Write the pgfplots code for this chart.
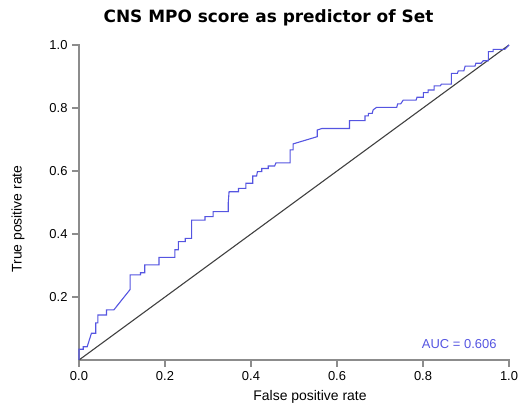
\documentclass[border=0pt]{standalone}
\usepackage{fontspec}
\setmainfont{Liberation Sans}
\newfontfamily\titlefont{DejaVu Sans}
\usepackage{pgfplots}
\pgfplotsset{compat=1.18}
\definecolor{rocblue}{RGB}{85,85,225}
\definecolor{axgray}{RGB}{140,140,140}

\begin{document}
\begin{tikzpicture}
\begin{axis}[
  at={(0,0)}, anchor=south west,
  scale only axis, width=430bp, height=315bp,
  xmin=0, xmax=1, ymin=0, ymax=1,
  axis lines*=left,
  axis line style={draw=none},
  major tick length=7bp,
  tick align=outside,
  xtick={0,0.2,0.4,0.6,0.8,1}, ytick={0.2,0.4,0.6,0.8,1},
  xticklabel style={font=\fontsize{13}{15}\selectfont, yshift=-1bp},
  yticklabel style={font=\fontsize{13}{15}\selectfont, xshift=-1bp},
  /pgf/number format/fixed,
  /pgf/number format/fixed zerofill,
  /pgf/number format/precision=1,
  /pgf/number format/assume math mode=true,
  clip=false,
]
% frame and ticks drawn in axis units
\draw[axgray, line width=2.2bp, line cap=rect] (axis cs:0,1) -- (axis cs:0,0) -- (axis cs:1,0);
\pgfplotsinvokeforeach{0,0.2,0.4,0.6,0.8,1}{
  \draw[axgray, line width=2.2bp] (axis cs:#1,0) -- ++(0,-7bp);
}
\pgfplotsinvokeforeach{0.2,0.4,0.6,0.8,1}{
  \draw[axgray, line width=2.2bp] (axis cs:0,#1) -- ++(-7bp,0);
}
\addplot[black!75, line width=1.1bp] coordinates {(0,0) (1,1)};
\addplot[rocblue, line width=1.1bp] coordinates {
(0,0) (0,0.034) (0.010,0.034) (0.010,0.042) (0.019,0.042) (0.029,0.085)
(0.039,0.085) (0.039,0.118) (0.044,0.118) (0.044,0.143) (0.064,0.143)
(0.064,0.159) (0.081,0.159) (0.119,0.224) (0.119,0.270) (0.143,0.270)
(0.143,0.277) (0.153,0.277) (0.153,0.302) (0.186,0.302) (0.186,0.326)
(0.223,0.326) (0.223,0.350) (0.231,0.350) (0.231,0.376) (0.247,0.376)
(0.247,0.386) (0.262,0.386) (0.262,0.444) (0.293,0.444) (0.293,0.455)
(0.312,0.455) (0.312,0.471) (0.347,0.471) (0.347,0.497) (0.349,0.534)
(0.371,0.534) (0.371,0.545) (0.388,0.545) (0.388,0.561) (0.404,0.561)
(0.404,0.584) (0.413,0.584) (0.415,0.598) (0.425,0.598) (0.425,0.608)
(0.440,0.608) (0.440,0.616) (0.455,0.616) (0.458,0.626) (0.491,0.626)
(0.491,0.667) (0.498,0.667) (0.498,0.686) (0.554,0.709) (0.554,0.730)
(0.565,0.735) (0.629,0.735) (0.629,0.760) (0.665,0.760) (0.665,0.775)
(0.673,0.775) (0.673,0.783) (0.682,0.783) (0.684,0.794) (0.692,0.802)
(0.739,0.802) (0.741,0.813) (0.748,0.813) (0.754,0.825) (0.784,0.825)
(0.786,0.834) (0.801,0.834) (0.801,0.849) (0.812,0.849) (0.812,0.857)
(0.826,0.857) (0.826,0.870) (0.840,0.870) (0.843,0.876) (0.866,0.876)
(0.866,0.910) (0.880,0.910) (0.882,0.918) (0.895,0.918) (0.898,0.933)
(0.921,0.933) (0.923,0.942) (0.935,0.942) (0.940,0.950) (0.952,0.950)
(0.952,0.979) (0.963,0.979) (0.963,0.986) (0.990,0.986) (1,1)
};
\end{axis}
\node[font=\titlefont\fontsize{17}{19}\selectfont\bfseries] at (189.5bp,342bp) {CNS MPO score as predictor of Set};
\node[font=\fontsize{14}{16}\selectfont, rotate=90] at (-61bp,141bp) {True positive rate};
\node[font=\fontsize{14}{16}\selectfont] at (231bp,-37bp) {False positive rate};
\node[font=\fontsize{13}{15}\selectfont, text=rocblue, anchor=east] at (421bp,16bp) {AUC = 0.606};
\pgfresetboundingbox
\path (-79bp,-46bp) rectangle (440bp,360bp);
\end{tikzpicture}
\end{document}
